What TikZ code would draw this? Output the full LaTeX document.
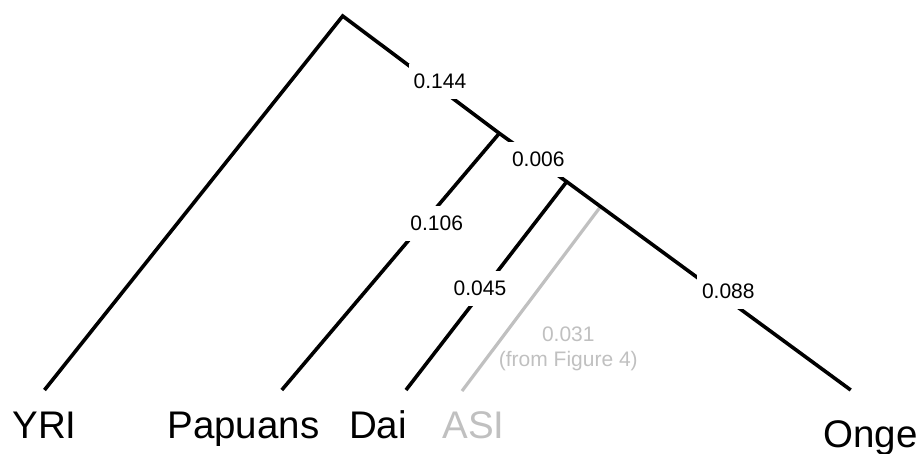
\documentclass[tikz,border=0pt]{standalone}
\usepackage{fontspec}
\setmainfont{Liberation Sans}
\definecolor{asigray}{RGB}{192,192,192}
\begin{document}
\begin{tikzpicture}[x=1pt, y=-1pt, line width=3.6pt,
	brlab/.style={fill=white, inner xsep=5pt, inner ysep=10pt, font=\fontsize{21}{25}\selectfont},
	leaf/.style={anchor=base, inner sep=0pt, font=\fontsize{38.5}{44}\selectfont}]
	\useasboundingbox (0,0) rectangle (919,453);
	% junctions
	\coordinate (root) at (342.7,16);
	\coordinate (jpap) at (499.3,133.3);
	\coordinate (jdai) at (566.7,181.7);
	\coordinate (jasi) at (601,206);
	% branch tips
	\coordinate (tyri) at (44.5,390);
	\coordinate (tpap) at (281.8,390);
	\coordinate (tdai) at (406,390);
	\coordinate (tasi) at (462,391);
	\coordinate (tonge) at (850.7,390);
	% branches
	\draw[asigray, line width=3.2pt] (jasi) -- (tasi);
	\draw (tyri) -- (root) -- (jpap) -- (jdai) -- (tonge);
	\draw (jpap) -- (tpap);
	\draw (jdai) -- (tdai);
	% drift lengths
	\node[brlab] (b144) at (440,81.7) {0.144};
	\node[brlab] (b006) at (538.3,159.3) {0.006};
	\node[brlab] (b106) at (436.7,223.3) {0.106};
	\node[brlab] (b045) at (480,288.3) {0.045};
	\node[brlab] (b088) at (728.3,291.7) {0.088};
	\node[brlab, fill=none, text=asigray, align=center] (b031) at (568.3,349.2) {0.031\\(from Figure 4)};
	% populations
	\node[leaf] (yri) at (44.5,438) {YRI};
	\node[leaf] (pap) at (243.5,438) {Papuans};
	\node[leaf] (dai) at (378,438) {Dai};
	\node[leaf, text=asigray] (asi) at (473.5,438) {ASI};
	\node[leaf] (onge) at (870.5,447) {Onge};
\end{tikzpicture}
\end{document}
